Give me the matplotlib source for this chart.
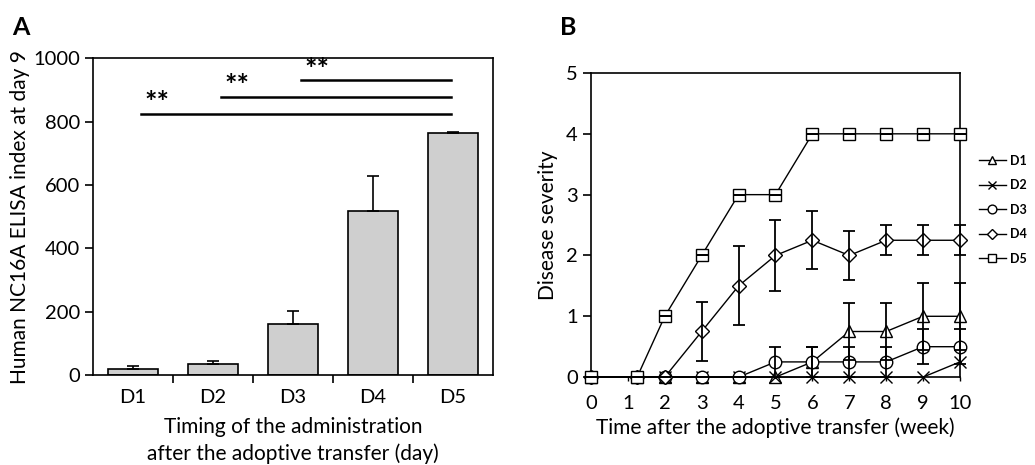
import matplotlib.pyplot as plt
import numpy as np

plt.rcParams['font.family'] = ['Lato', 'DejaVu Sans']

# Panel A data
groups = ["D1", "D2", "D3", "D4", "D5"]
elisa = [20, 35, 160, 518, 763]
elisa_err = [10, 10, 42, 110, 5]

# significance bars: (start group index, end group index, height)
sig_start = [0, 1, 2]
sig_end = [4, 4, 4]
sig_y = [825, 878, 930]

# Panel B data
weeks = [0, 1.25, 2, 3, 4, 5, 6, 7, 8, 9, 10]
d1 = [0, 0, 0, 0, 0, 0, 0.25, 0.75, 0.75, 1.0, 1.0]
d1_err = [0, 0, 0, 0, 0, 0, 0.25, 0.47, 0.47, 0.55, 0.55]
d2 = [0, 0, 0, 0, 0, 0, 0, 0, 0, 0, 0.25]
d2_err = [0, 0, 0, 0, 0, 0, 0, 0, 0, 0, 0]
d3 = [0, 0, 0, 0, 0, 0.25, 0.25, 0.25, 0.25, 0.5, 0.5]
d3_err = [0, 0, 0, 0, 0, 0.25, 0.25, 0.25, 0.25, 0.29, 0.29]
d4 = [0, 0, 0, 0.75, 1.5, 2.0, 2.25, 2.0, 2.25, 2.25, 2.25]
d4_err = [0, 0, 0, 0.48, 0.65, 0.58, 0.48, 0.4, 0.25, 0.25, 0.25]
d5 = [0, 0, 1, 2, 3, 3, 4, 4, 4, 4, 4]
d5_err = [0, 0, 0, 0, 0, 0, 0, 0, 0, 0, 0]

fig = plt.figure(figsize=(10.35, 4.65), dpi=100)

# ---- A ----
ax = fig.add_axes([0.0899, 0.1935, 0.3865, 0.6815])
x = np.arange(len(groups))
ax.bar(x, elisa, width=0.62, color="#cfcfcf", edgecolor="black", linewidth=1.2)
ax.errorbar(x, elisa, yerr=[np.zeros(len(elisa)), elisa_err], fmt="none",
            ecolor="black", elinewidth=1.2, capsize=4, capthick=1.2)
for s, e, h in zip(sig_start, sig_end, sig_y):
    ax.plot([s + 0.1, e - 0.03], [h, h], color="black", lw=1.8)
    ax.text(s + 0.3, h - 8, "**", ha="center", va="bottom", fontsize=21, fontweight="bold")
ax.set_xlim(-0.5, 4.5)
ax.set_ylim(0, 1000)
ax.set_yticks([0, 200, 400, 600, 800, 1000])
ax.set_xticks(x)
ax.set_xticklabels(groups)
ax.set_xticks(np.arange(0.5, 4.5, 1), minor=True)
ax.tick_params(axis="x", which="major", length=0, pad=10, labelsize=14.5)
ax.tick_params(axis="x", which="minor", length=6, width=1.2, direction="out")
ax.tick_params(axis="y", length=6, width=1.2, direction="out", labelsize=14.5)
for sp in ax.spines.values():
    sp.set_linewidth(1.2)
ax.set_ylabel("Human NC16A ELISA index at day 9", fontsize=15, labelpad=2)
ax.set_xlabel("Timing of the administration\nafter the adoptive transfer (day)",
              fontsize=15, labelpad=8, linespacing=1.4)
fig.text(0.012, 0.965, "A", fontsize=18, fontweight="bold", va="top")

# ---- B ----
bx = fig.add_axes([0.571, 0.189, 0.3565, 0.654])
series = [(d1, d1_err, "^", "D1"), (d2, d2_err, "x", "D2"), (d3, d3_err, "o", "D3"),
          (d4, d4_err, "D", "D4"), (d5, d5_err, "s", "D5")]
for vals, err, mk, lab in series:
    ms = 7 if mk == "D" else 9
    bx.plot(weeks, vals, color="black", lw=1, marker=mk, ms=ms, mfc="white",
            mec="black", mew=1, label=lab, clip_on=False, zorder=3)
    if lab != "D2":
        bx.errorbar(weeks, vals, yerr=err, fmt="none", ecolor="black", elinewidth=1.3,
                    capsize=4, capthick=1.3, clip_on=False, zorder=4)
bx.set_xlim(0, 10)
bx.set_ylim(0, 5)
bx.set_xticks(range(0, 11))
bx.set_yticks(range(0, 6))
bx.tick_params(axis="y", length=6, width=1.2, direction="out", labelsize=14.5)
bx.tick_params(axis="x", length=3, width=1, direction="out", labelsize=14.5, pad=10)
for sp in bx.spines.values():
    sp.set_linewidth(1.2)
bx.set_ylabel("Disease severity", fontsize=15, labelpad=6)
bx.set_xlabel("Time after the adoptive transfer (week)", fontsize=15, labelpad=4)
bx.legend(loc="center left", bbox_to_anchor=(1.02, 0.55), frameon=False,
          prop={"size": 9, "weight": "bold"}, handlelength=2.2, labelspacing=1.0,
          markerscale=0.7, handletextpad=0.3)
fig.text(0.541, 0.965, "B", fontsize=18, fontweight="bold", va="top")

fig.savefig("out.png", dpi=100)
